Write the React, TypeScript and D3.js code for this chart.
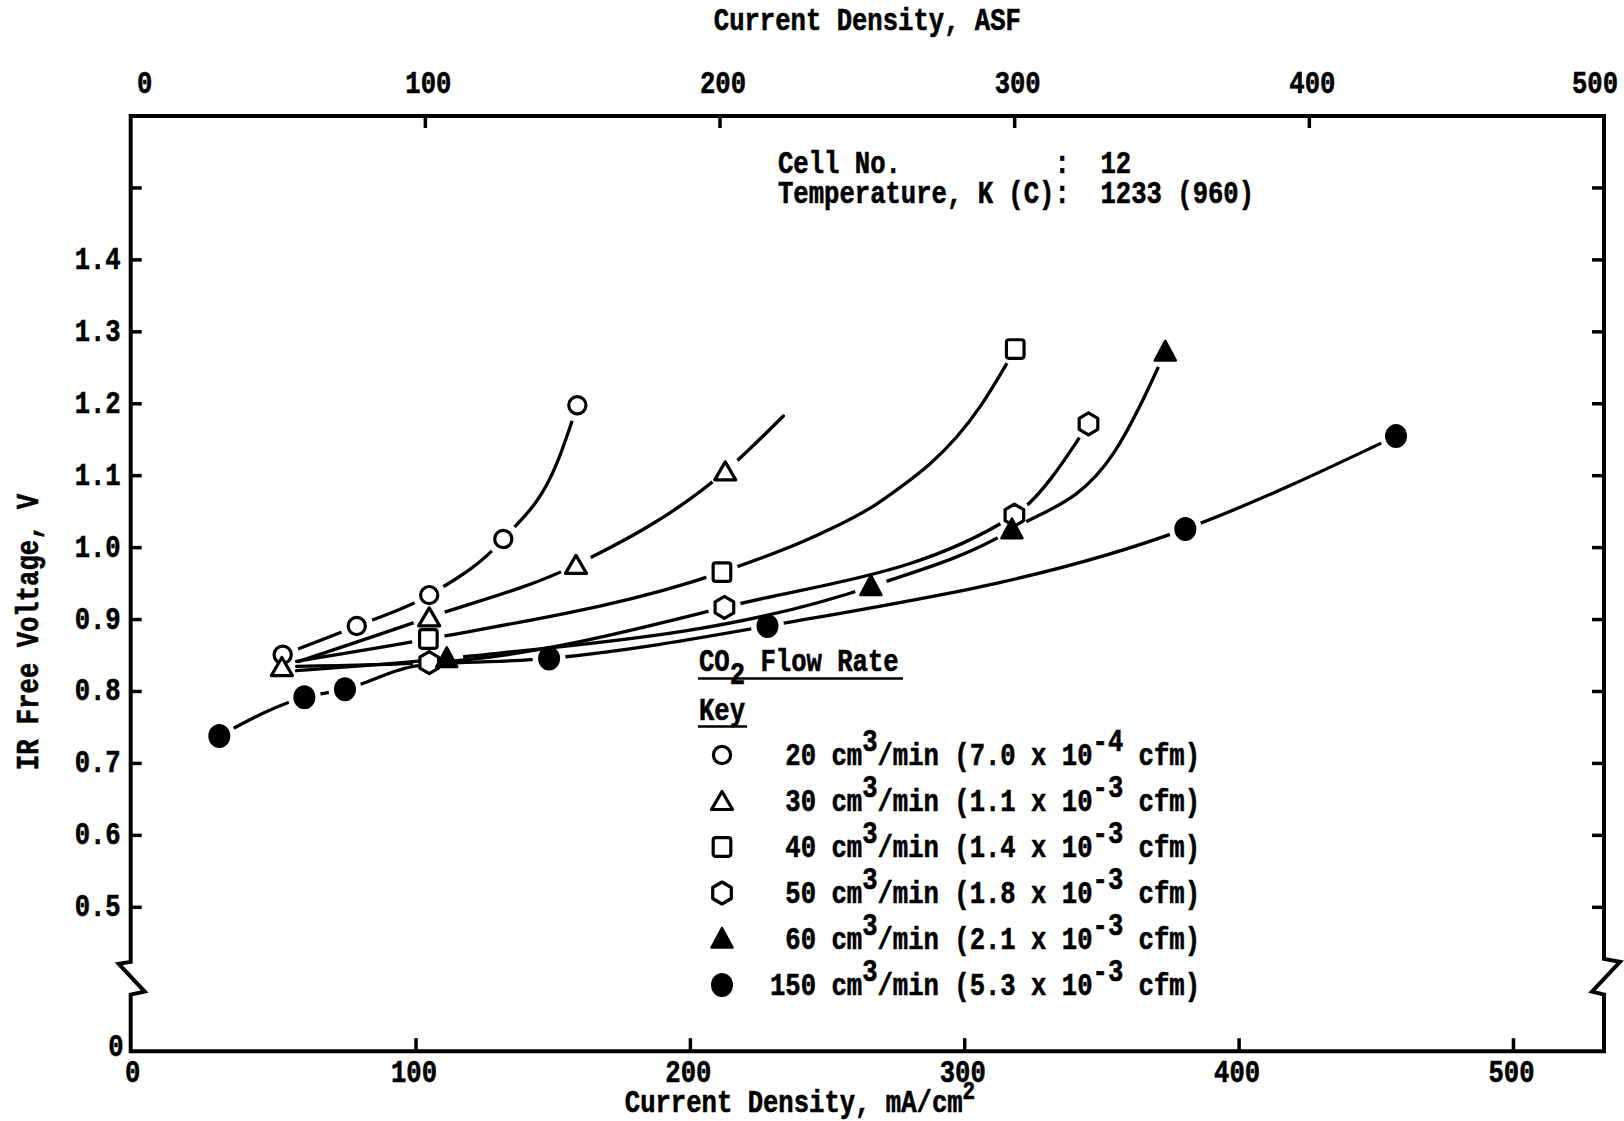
import React from 'react';
import * as d3 from 'd3';

const W = 1624;
const H = 1121;

// IR-free voltage (V) against current density (mA/cm²) for each CO2 flow rate
const flow20X = [51.4, 78.4, 104.8, 131.8, 158.8];
const flow20Y = [0.851, 0.891, 0.934, 1.012, 1.198];
const flow30X = [51.1, 104.8, 158.3, 212.7];
const flow30Y = [0.834, 0.903, 0.976, 1.106];
const flow40X = [104.5, 211.5, 318.4];
const flow40Y = [0.873, 0.966, 1.276];
const flow50X = [104.8, 212.4, 318.1, 345.1];
const flow50Y = [0.84, 0.917, 1.045, 1.172];
const flow60X = [111.2, 265.8, 317.2, 373.1];
const flow60Y = [0.846, 0.946, 1.025, 1.272];
const flow150X = [28.3, 59.3, 74.1, 148.5, 228.1, 380.4, 457.2];
const flow150Y = [0.738, 0.792, 0.803, 0.846, 0.891, 1.026, 1.155];

// Extra knots of the hand-faired curves (where a curve starts, ends or bends away from the points)
const fit20X = [151.3];
const fit20Y = [1.117];
const fit30X = [233.9];
const fit30Y = [1.183];
const fit40X = [56.4, 244.9, 269.2, 305.6];
const fit40Y = [0.842, 1.015, 1.064, 1.196];
const fit50X = [56.4];
const fit50Y = [0.835];
const fit60X = [56.4, 354.2];
const fit60Y = [0.829, 1.131];
const fit150X = [100.3];
const fit150Y = [0.8355];

// Axis ticks
const ySideTicks = [0.5, 0.6, 0.7, 0.8, 0.9, 1.0, 1.1, 1.2, 1.3, 1.4, 1.5];
const yLabels = ['0.5', '0.6', '0.7', '0.8', '0.9', '1.0', '1.1', '1.2', '1.3', '1.4'];
const asfTicks = [0, 100, 200, 300, 400, 500];
const maTicks = [0, 100, 200, 300, 400, 500];

// Legend
const legendShapes = ['circle', 'triangle', 'square', 'hexagon', 'triangleFilled', 'dot'];
const legendRates = [' 20', ' 30', ' 40', ' 50', ' 60', '150'];
const legendCfm = ['7.0', '1.1', '1.4', '1.8', '2.1', '5.3'];
const legendExp = ['-4', '-3', '-3', '-3', '-3', '-3'];

const FONT = "'Liberation Mono', 'Courier New', monospace";
const FS = 25.6;
const SY = 1.2; // typewriter face is taller than the screen font

const txtStyle = {
  fontFamily: FONT,
  fontWeight: 700,
  fontSize: FS,
  fill: '#000',
  stroke: '#000',
  strokeWidth: 0.5,
  whiteSpace: 'pre' as const,
};

function T({
  x,
  y,
  anchor = 'start',
  rotate = 0,
  children,
}: {
  x: number;
  y: number;
  anchor?: 'start' | 'middle' | 'end';
  rotate?: number;
  children: React.ReactNode;
}) {
  return (
    <g transform={`translate(${x},${y}) rotate(${rotate}) scale(1,${SY})`}>
      <text textAnchor={anchor} style={txtStyle} xmlSpace="preserve">
        {children}
      </text>
    </g>
  );
}

function Marker({ shape, cx, cy }: { shape: string; cx: number; cy: number }) {
  const t = `translate(${cx},${cy})`;
  const open = { fill: '#fff', stroke: '#000', strokeWidth: 3.2 };
  switch (shape) {
    case 'circle':
      return <circle cx={cx} cy={cy} r={8.6} {...open} />;
    case 'triangle':
      return <path transform={t} d="M0,-9.5 L10.5,8.5 L-10.5,8.5 Z" {...open} strokeLinejoin="round" />;
    case 'square':
      return <rect transform={t} x={-8.8} y={-9.3} width={17.6} height={18.6} rx={2.5} {...open} />;
    case 'hexagon':
      return (
        <path transform={t} d="M0,-11 L9.3,-5.5 L9.3,5.5 L0,11 L-9.3,5.5 L-9.3,-5.5 Z" {...open} strokeLinejoin="round" />
      );
    case 'triangleFilled':
      return (
        <path transform={t} d="M0,-11 L10.5,8.5 L-10.5,8.5 Z" fill="#000" stroke="#000" strokeWidth={2.5} strokeLinejoin="round" />
      );
    default:
      return <ellipse cx={cx} cy={cy} rx={11} ry={12} fill="#000" />;
  }
}

export default function App() {
  const xB = d3.scaleLinear().domain([-4, 533]).range([130.7, 1604]);
  const xT = d3.scaleLinear().domain([0, 500]).range([130.7, 1604]);
  const y = d3.scaleLinear().domain([0.5, 1.6]).range([907.3, 116]);

  const left = xT(0);
  const right = xT(500);
  const top = y(1.6);
  const bottom = y(0.3);
  const brkA = y(0.42);
  const brkB = y(0.38);

  const series = [
    { shape: 'circle', xs: flow20X, ys: flow20Y, fx: fit20X, fy: fit20Y },
    { shape: 'triangle', xs: flow30X, ys: flow30Y, fx: fit30X, fy: fit30Y },
    { shape: 'square', xs: flow40X, ys: flow40Y, fx: fit40X, fy: fit40Y },
    { shape: 'hexagon', xs: flow50X, ys: flow50Y, fx: fit50X, fy: fit50Y },
    { shape: 'triangleFilled', xs: flow60X, ys: flow60Y, fx: fit60X, fy: fit60Y },
    { shape: 'dot', xs: flow150X, ys: flow150Y, fx: fit150X, fy: fit150Y },
  ];

  const line = d3
    .line<[number, number]>()
    .x((d) => xB(d[0]))
    .y((d) => y(d[1]))
    .curve(d3.curveMonotoneX);

  const frame =
    `M${left},${top} H${right} V${brkA - 6} L${right + 16},${brkA - 3} L${right - 12},${brkB - 2} L${right},${brkB + 1} ` +
    `V${bottom} H${left} V${brkB + 1} L${left + 14},${brkB - 2} L${left - 12},${brkA - 1} L${left},${brkA - 3} Z`;

  // clip region for each curve: everything except small discs round its own points
  const gapPath = (xs: number[], ys: number[]) => {
    const r = 16.5;
    let d = `M0,0H${W}V${H}H0Z`;
    xs.forEach((v, j) => {
      const cx = xB(v);
      const cy = y(ys[j]);
      d += ` M${cx - r},${cy} a${r},${r} 0 1,0 ${2 * r},0 a${r},${r} 0 1,0 ${-2 * r},0 Z`;
    });
    return d;
  };

  return (
    <div style={{ position: 'absolute', left: 0, top: 0 }}>
      <svg width={W} height={H} viewBox={`0 0 ${W} ${H}`} style={{ display: 'block', background: '#fff' }}>
        <rect width={W} height={H} fill="#fff" />
        <defs>
          {series.map((s, i) => (
            <clipPath key={i} id={`gap-${i}`} clipPathUnits="userSpaceOnUse">
              <path d={gapPath(s.xs, s.ys)} clipRule="evenodd" />
            </clipPath>
          ))}
        </defs>

        {/* frame with axis breaks */}
        <path d={frame} fill="none" stroke="#000" strokeWidth={4} strokeLinejoin="miter" />

        {/* side ticks */}
        {ySideTicks.map((v) => (
          <g key={v}>
            <line x1={left} x2={left + 11} y1={y(v)} y2={y(v)} stroke="#000" strokeWidth={3.5} />
            <line x1={right} x2={right - 12} y1={y(v)} y2={y(v)} stroke="#000" strokeWidth={3.5} />
          </g>
        ))}
        {/* top ASF ticks */}
        {asfTicks.slice(1, -1).map((v) => (
          <line key={v} x1={xT(v)} x2={xT(v)} y1={top} y2={top + 12} stroke="#000" strokeWidth={3.5} />
        ))}
        {/* bottom mA/cm² ticks */}
        {maTicks.slice(1).map((v) => (
          <line key={v} x1={xB(v)} x2={xB(v)} y1={bottom} y2={bottom - 13} stroke="#000" strokeWidth={3.5} />
        ))}

        {/* tick labels */}
        {yLabels.map((l) => (
          <T key={l} x={left - 10} y={y(+l) + 9} anchor="end">
            {l}
          </T>
        ))}
        <T x={left - 7} y={bottom + 5} anchor="end">
          0
        </T>
        {asfTicks.map((v) => (
          <T key={v} x={xT(v) + (v === 0 ? 14 : v === 500 ? -9 : 3)} y={93} anchor="middle">
            {String(v)}
          </T>
        ))}
        {maTicks.map((v) => (
          <T key={v} x={v === 0 ? left + 2 : xB(v) - 2} y={1082} anchor="middle">
            {String(v)}
          </T>
        ))}

        {/* axis titles */}
        <T x={(left + right) / 2} y={30} anchor="middle">
          Current Density, ASF
        </T>
        <T x={800} y={1112} anchor="middle">
          {'Current Density, mA/cm'}
          <tspan dy={-11} fontSize={21}>
            2
          </tspan>
        </T>
        <T x={38} y={632} anchor="middle" rotate={-90}>
          IR Free Voltage, V
        </T>

        {/* cell conditions */}
        <T x={778} y={173}>
          {'Cell No.          :  12'}
        </T>
        <T x={778} y={203}>
          {'Temperature, K (C):  1233 (960)'}
        </T>

        {/* fitted curves */}
        {series.map((s, i) => {
          const pts: [number, number][] = s.xs
            .map((v, j) => [v, s.ys[j]] as [number, number])
            .concat(s.fx.map((v, j) => [v, s.fy[j]] as [number, number]))
            .sort((a, b) => a[0] - b[0]);
          return (
            <path
              key={i}
              d={line(pts) || ''}
              fill="none"
              stroke="#000"
              strokeWidth={3.3}
              strokeLinecap="round"
              clipPath={`url(#gap-${i})`}
            />
          );
        })}

        {/* data points */}
        {series.map((s, i) => (
          <g key={i}>
            {s.xs.map((v, j) => (
              <Marker key={j} shape={s.shape} cx={xB(v)} cy={y(s.ys[j])} />
            ))}
          </g>
        ))}

        {/* key */}
        <T x={699} y={671}>
          {'CO'}
          <tspan dy={11}>2</tspan>
          <tspan dy={-11}>{' Flow Rate'}</tspan>
        </T>
        <line x1={698} x2={903} y1={678.5} y2={678.5} stroke="#000" strokeWidth={2.5} />
        <T x={699} y={720}>
          Key
        </T>
        <line x1={698} x2={747} y1={726.5} y2={726.5} stroke="#000" strokeWidth={2.5} />
        {legendShapes.map((shape, i) => {
          const cy = 755 + i * 46;
          return (
            <g key={shape}>
              <Marker shape={shape} cx={722} cy={cy} />
              <T x={770} y={cy + 10}>
                {`${legendRates[i]} cm`}
                <tspan dy={-12}>3</tspan>
                <tspan dy={12}>{`/min (${legendCfm[i]} x 10`}</tspan>
                <tspan dy={-12}>{legendExp[i]}</tspan>
                <tspan dy={12}>{' cfm)'}</tspan>
              </T>
            </g>
          );
        })}
      </svg>
    </div>
  );
}
